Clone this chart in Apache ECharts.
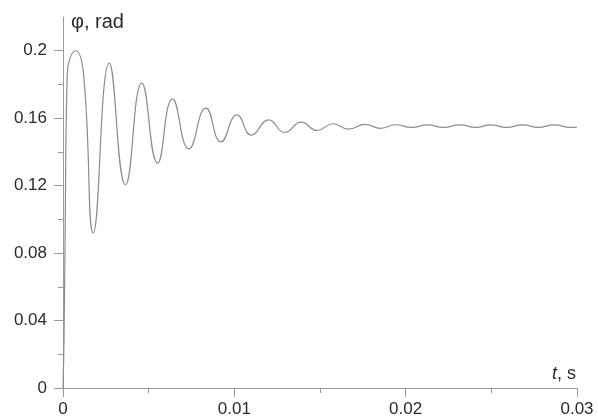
<!DOCTYPE html>
<html>
<head>
<meta charset="utf-8">
<script src="https://cdn.jsdelivr.net/npm/echarts@6/dist/echarts.min.js"></script>
<style>
html,body{margin:0;padding:0;background:#fff;}
#c{width:598px;height:419px;}
</style>
</head>
<body>
<div id="c"></div>
<script>
// time, s (start of rise, then successive extrema)
var timeValues = [0, 0.00006, 0.00012, 0.00025, 0.00074, 0.00120, 0.00177,
  0.0027, 0.00365, 0.0046, 0.00552, 0.00639, 0.00735, 0.00834, 0.00922, 0.01016,
  0.0110, 0.0120, 0.01294, 0.0139, 0.01484, 0.01575, 0.01668, 0.01762, 0.01855, 0.0194,
  0.02035, 0.02127, 0.0222, 0.02316, 0.0241, 0.02497, 0.0259, 0.02682, 0.02775, 0.02867,
  0.0296, 0.03];
// angle phi, rad
var phiValues = [0, 0.03, 0.088, 0.186, 0.2, 0.186, 0.092,
  0.1927, 0.1205, 0.1808, 0.1334, 0.1715, 0.1418, 0.166, 0.146, 0.162,
  0.150, 0.159, 0.1515, 0.1577, 0.1527, 0.1567, 0.1535, 0.1563, 0.1540, 0.1561,
  0.1545, 0.156, 0.1545, 0.156, 0.1545, 0.156, 0.1545, 0.156, 0.1545, 0.156,
  0.1545, 0.1547];
var xTicks = [0, 0.01, 0.02, 0.03];
var yMajorTicks = [0, 0.04, 0.08, 0.12, 0.16, 0.2];
var yMinorTicks = [0.02, 0.06, 0.10, 0.14, 0.18];
var yName = 'φ, rad';

var data = timeValues.map(function (t, i) { return [t, phiValues[i]]; });
var axisColor = '#9a9a9a';
var textColor = '#2b2b2b';
var font = '"Liberation Sans", Arial, sans-serif';

var chart = echarts.init(document.getElementById('c'));
chart.setOption({
  animation: false,
  backgroundColor: '#ffffff',
  grid: { left: 63, right: 21, top: 17, bottom: 31, containLabel: false },
  xAxis: {
    type: 'value', min: 0, max: 0.03, interval: 0.01,
    name: '{i|t}, s',
    nameLocation: 'end', nameGap: -1,
    nameTextStyle: {
      color: textColor, fontSize: 18, fontFamily: font, align: 'right', verticalAlign: 'bottom',
      padding: [0, 0, 5, 0],
      rich: { i: { fontStyle: 'italic', fontSize: 18, fontFamily: font, color: textColor } }
    },
    axisLine: { show: true, onZero: false, lineStyle: { color: axisColor, width: 1 } },
    axisTick: { show: true, inside: false, length: 9, lineStyle: { color: axisColor } },
    minorTick: { show: true, splitNumber: 2, length: 5, lineStyle: { color: axisColor } },
    splitLine: { show: false },
    axisLabel: {
      color: textColor, fontSize: 17, fontFamily: font, margin: 13,
      customValues: xTicks,
      formatter: function (v) { return v === 0 ? '0' : String(v); }
    }
  },
  yAxis: [{
    type: 'value', min: 0, max: 0.22,
    name: yName,
    nameLocation: 'end', nameGap: -5,
    nameTextStyle: { color: textColor, fontSize: 20, fontFamily: font, align: 'left', verticalAlign: 'middle', padding: [0, 0, 0, 8] },
    axisLine: { show: true, onZero: false, lineStyle: { color: axisColor, width: 1 } },
    axisTick: { show: true, inside: false, length: 9, customValues: yMajorTicks, lineStyle: { color: axisColor } },
    splitLine: { show: false },
    axisLabel: {
      color: textColor, fontSize: 17, fontFamily: font, margin: 16,
      customValues: yMajorTicks,
      formatter: function (v) { return v === 0 ? '0' : String(v); }
    }
  }, {
    type: 'value', min: 0, max: 0.22, position: 'left',
    axisLine: { show: false },
    axisTick: { show: true, inside: false, length: 5, customValues: yMinorTicks, lineStyle: { color: axisColor } },
    axisLabel: { show: false },
    splitLine: { show: false }
  }],
  series: [{
    type: 'line',
    data: data,
    yAxisIndex: 0,
    showSymbol: false,
    smooth: 0.5,
    lineStyle: { color: '#8c8c8c', width: 1.2 },
    silent: true
  }]
});
</script>
</body>
</html>
